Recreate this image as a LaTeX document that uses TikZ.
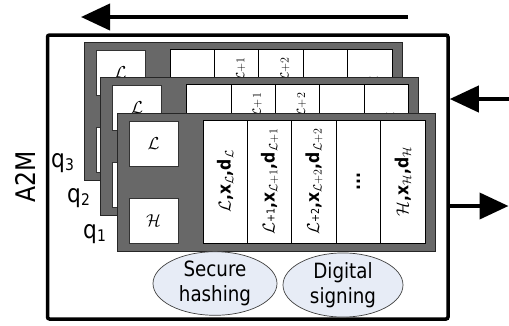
\documentclass[tikz,border=0pt]{standalone}
\usepackage{fontspec}
\setmainfont[FakeStretch=0.87]{DejaVu Sans}
\usetikzlibrary{arrows.meta,shapes.geometric}
\definecolor{cardgray}{RGB}{104,104,104}
\definecolor{ellfill}{RGB}{231,236,246}
\tikzset{
  outerbox/.style={draw=black, line width=3.5pt, rounded corners=2pt, minimum width=400.5pt, minimum height=284pt, inner sep=0pt},
  cardbg/.style={draw=black!85, line width=0.8pt, fill=cardgray, minimum width=318pt, minimum height=138pt, inner sep=0pt},
  lbox/.style={draw=black!80, line width=0.8pt, fill=white, minimum width=49pt, minimum height=45pt, inner sep=0pt, font=\fontsize{19}{20}\selectfont},
  colbox/.style={draw=black, line width=0.8pt, fill=white, rotate=90, minimum width=123pt, minimum height=44.4pt, inner sep=0pt, font=\fontsize{18}{20}\selectfont\bfseries},
  bigarrow/.style={line width=4pt, -{Triangle[length=29pt,width=26pt]}},
  ellbox/.style={ellipse, draw=black!75, line width=0.7pt, fill=ellfill, inner sep=0pt, align=center, font=\fontsize{21}{25}\selectfont},
  qlabel/.style={anchor=base west, inner sep=0pt},
}
\newcommand\qlab[1]{{\fontsize{25}{30}\selectfont q}{\fontsize{16}{18}\selectfont\raisebox{-3pt}{#1}}}
\newcommand\smallplus[1]{{\fontsize{11}{11}\selectfont\mdseries +#1}}
\newcommand\drawcard[3]{%
  \begin{scope}[shift={(#1,#2)}]
    \node[cardbg] (card#3) at (159,69) {};
    \node[lbox] (lb#3) at (36.5,30.5) {$\mathcal{L}$};
    \node[lbox] (hb#3) at (36.5,107.5) {$\mathcal{H}$};
    \node[colbox] (ca#3) at (108.2,68.5) {$\mathcal{L}$,x$_{\mathcal{L}}$,d$_{\mathcal{L}}$};
    \node[colbox] (cb#3) at (152.6,68.5) {$\mathcal{L}$\smallplus{1},x$_{\mathcal{L}+1}$,d$_{\mathcal{L}+1}$};
    \node[colbox] (cc#3) at (197,68.5) {$\mathcal{L}$\smallplus{2},x$_{\mathcal{L}+2}$,d$_{\mathcal{L}+2}$};
    \node[colbox] (cd#3) at (241.4,68.5) {...};
    \node[colbox] (ce#3) at (285.8,68.5) {$\mathcal{H}$,x$_{\mathcal{H}}$,d$_{\mathcal{H}}$};
  \end{scope}}
\begin{document}
\begin{tikzpicture}[x=1pt,y=-1pt]
  \useasboundingbox (0,0) rectangle (509,325);
  \node[outerbox] (a2m) at (247.75,177) {};
  \drawcard{84}{42}{3}
  \drawcard{100.5}{77.5}{2}
  \drawcard{117}{113}{1}
  \node[rotate=90, inner sep=0pt, font=\fontsize{27}{30}\selectfont] (a2mlabel) at (25,177) {A2M};
  \node[qlabel] (q3) at (51,167) {\qlab{3}};
  \node[qlabel] (q2) at (67,202) {\qlab{2}};
  \node[qlabel] (q1) at (83,238) {\qlab{1}};
  \node[ellbox, minimum width=124pt, minimum height=57pt] (hash) at (215,283.5) {Secure\\hashing};
  \node[ellbox, minimum width=120pt, minimum height=58pt] (sign) at (343,285) {Digital\\signing};
  \coordinate (topS) at (408,17);
  \coordinate (topE) at (81,17);
  \draw[bigarrow] (topS) -- (topE);
  \coordinate (inS) at (509,99);
  \draw[bigarrow] (inS) -- (inS -| a2m.east);
  \coordinate (outE) at (508.5,206);
  \draw[bigarrow] (outE -| a2m.east) -- (outE);
\end{tikzpicture}
\end{document}
